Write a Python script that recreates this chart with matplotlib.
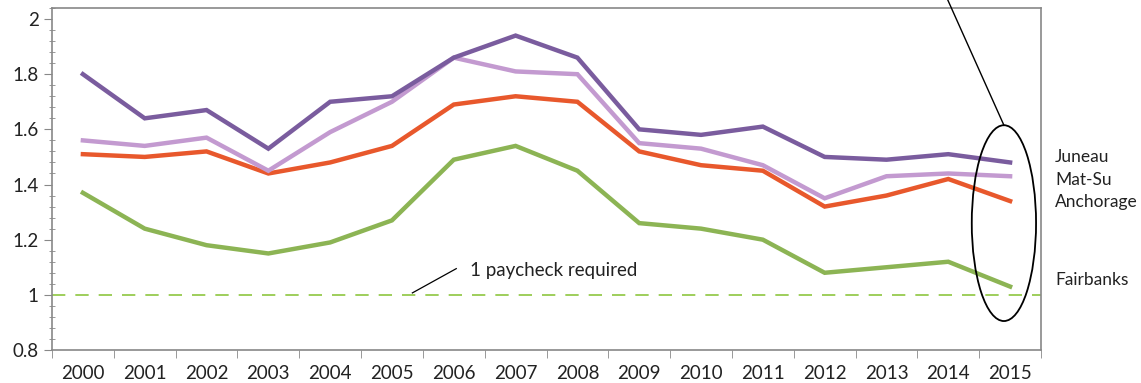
import numpy as np
import matplotlib
matplotlib.use("Agg")
import matplotlib.pyplot as plt
from matplotlib.patches import Ellipse
from matplotlib.ticker import MultipleLocator

years = [str(y) for y in range(2000, 2016)]
juneau = [1.80, 1.64, 1.67, 1.53, 1.70, 1.72, 1.86, 1.94, 1.86, 1.60, 1.58, 1.61, 1.50, 1.49, 1.51, 1.48]
matsu = [1.56, 1.54, 1.57, 1.45, 1.59, 1.70, 1.86, 1.81, 1.80, 1.55, 1.53, 1.47, 1.35, 1.43, 1.44, 1.43]
anchorage = [1.51, 1.50, 1.52, 1.44, 1.48, 1.54, 1.69, 1.72, 1.70, 1.52, 1.47, 1.45, 1.32, 1.36, 1.42, 1.34]
fairbanks = [1.37, 1.24, 1.18, 1.15, 1.19, 1.27, 1.49, 1.54, 1.45, 1.26, 1.24, 1.20, 1.08, 1.10, 1.12, 1.03]
names = ["Juneau", "Mat-Su", "Anchorage", "Fairbanks"]
colors = ["#7a5c9e", "#c39ad0", "#e8582c", "#8cb454"]

plt.rcParams["font.family"] = ["Lato", "DejaVu Sans"]
fs = 13.5

fig = plt.figure(figsize=(11.41, 3.83), dpi=100)
W, H = 1141, 383
ax = fig.add_axes([52 / W, 1 - 350 / H, (1041 - 52) / W, (350 - 8) / H])

x = np.arange(len(years))
ax.axhline(1.0, color="#8dc63f", lw=1.2, dashes=(8, 6), zorder=1)
for vals, c in zip([fairbanks, anchorage, matsu, juneau], colors[::-1]):
    ax.plot(x, vals, color=c, lw=3.2, solid_joinstyle="miter", zorder=3)

ax.set_xlim(-0.5, len(years) - 0.5)
ax.set_ylim(0.8, 2.04)
ax.set_yticks([0.8, 1.0, 1.2, 1.4, 1.6, 1.8, 2.0])
ax.set_yticklabels(["0.8", "1", "1.2", "1.4", "1.6", "1.8", "2"])
ax.yaxis.set_minor_locator(MultipleLocator(0.04))
ax.set_xticks(x)
ax.set_xticklabels(years)
ax.set_xticks(np.arange(-0.5, len(years)), minor=True)
ax.tick_params(axis="x", which="major", length=0, pad=11, labelsize=fs, colors="#222222")
ax.tick_params(axis="x", which="minor", length=6, color="#888888", direction="out")
ax.tick_params(axis="y", which="major", length=6, direction="out", labelsize=fs, colors="#222222")
ax.tick_params(axis="y", which="major", color="#888888")
ax.tick_params(axis="y", which="minor", length=4, color="#888888", direction="inout")
for s in ax.spines.values():
    s.set_color("#888888")
    s.set_linewidth(1.2)

# callout ellipse around the 2015 values
ell = Ellipse((14.9, 1.26), 1.04, 0.71, fill=False, ec="black", lw=1.3, zorder=4, clip_on=False)
ax.add_patch(ell)
ax.plot([13.91, 14.9], [2.11, 1.615], color="black", lw=1.0, clip_on=False, zorder=4)

# reference line label
ax.plot([5.33, 6.04], [1.007, 1.095], color="black", lw=0.9, zorder=4)
ax.text(6.26, 1.087, "1 paycheck required", fontsize=fs, color="#222222", va="center", ha="left")

label_y = [1.498, 1.418, 1.338, 1.055]
for n, yv in zip(names, label_y):
    ax.text(15.73, yv, n, fontsize=12.5, color="#222222", va="center", ha="left", clip_on=False)

fig.savefig("out.png", dpi=100)
